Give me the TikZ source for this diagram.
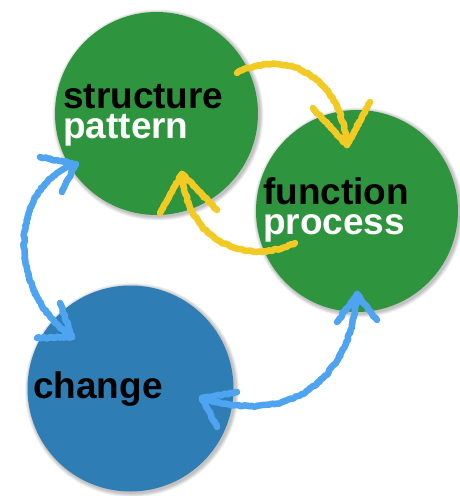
\documentclass[tikz,border=0pt]{standalone}
\usepackage{fontspec}
\setmainfont{Liberation Sans}
\usetikzlibrary{decorations.pathmorphing}
\definecolor{leaf}{RGB}{46,148,62}
\definecolor{sea}{RGB}{46,125,180}
\definecolor{crayonyellow}{RGB}{242,202,36}
\definecolor{crayonblue}{RGB}{78,164,240}
\tikzset{
  x=1pt, y=-1pt,
  disc/.style={circle, inner sep=0pt, minimum size=#1},
  lbl/.style={anchor=base west, inner sep=0pt, align=left, font=\bfseries\fontsize{37}{29.5}\selectfont},
  crayon/.style={line width=6.5pt, line cap=round, line join=round,
    decorate, decoration={random steps, segment length=2pt, amplitude=0.8pt}},
  ycrayon/.style={crayon, draw=crayonyellow},
  bcrayon/.style={crayon, draw=crayonblue},
}
\newcommand{\shadowdisc}[3]{%
  \foreach \k in {1,...,5}{\fill[black, opacity=0.05] (#1+1.5,#2+1.5) circle[radius=#3+\k*0.8];}}
\begin{document}
\begin{tikzpicture}
\useasboundingbox (0,0) rectangle (459,496);
\fill[white] (0,0) rectangle (459,496);
% shadows
\shadowdisc{156.5}{113.5}{101.5}
\shadowdisc{357}{211}{101}
\shadowdisc{130.5}{388.5}{103}
% circles
\node[disc=203pt, fill=leaf] (top) at (156.5,113.5) {};
\node[disc=202pt, fill=leaf] (right) at (357,211) {};
\node[disc=206pt, fill=sea] (bottom) at (130.5,388.5) {};
% labels
\node[lbl, text=black] (toplabel) at (63,138) {structure\\\textcolor{white}{pattern}};
\node[lbl, text=black] (rightlabel) at (263,234) {function\\\textcolor{white}{process}};
\node[lbl, text=black] (change) at (33,398) {change};
% connector end points
\coordinate (y1s) at (237,73);
\coordinate (y1e) at (347,145);
\coordinate (y2s) at (295,243);
\coordinate (y2e) at (182,174);
\coordinate (baT) at (76,164);
\coordinate (baB) at (72,337);
\coordinate (bbB) at (202,398);
\coordinate (bbR) at (357,294);
% yellow arrows
\draw[ycrayon] (y1s) .. controls (280,50) and (340,70) .. (y1e);
\draw[ycrayon] (313,108) -- (y1e) -- (370,102);
\draw[ycrayon] (y2s) .. controls (250,265) and (188,245) .. (y2e);
\draw[ycrayon] (160,213) -- (y2e) -- (217,210);
% blue arrows
\draw[bcrayon] (baT) .. controls (10,185) and (5,290) .. (baB);
\draw[bcrayon] (40,157) -- (baT) -- (62,192);
\draw[bcrayon] (60,303) -- (baB) -- (37,338);
\draw[bcrayon] (bbB) .. controls (285,425) and (350,385) .. (bbR);
\draw[bcrayon] (237,392) -- (bbB) -- (217,427);
\draw[bcrayon] (337,322) -- (bbR) -- (377,320);
\end{tikzpicture}
\end{document}
